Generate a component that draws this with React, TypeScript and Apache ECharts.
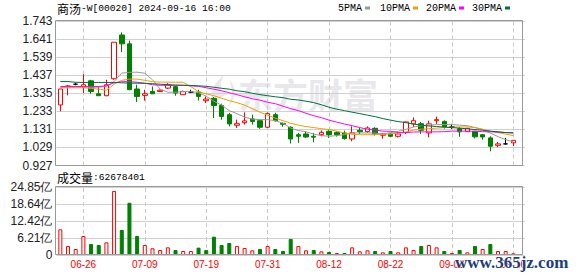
import React, { useEffect, useRef } from 'react';
import * as echarts from 'echarts';

const dates = ['06-21','06-24','06-25','06-26','06-27','06-28','07-02','07-03','07-04','07-05','07-08','07-09','07-10','07-11','07-12','07-15','07-16','07-17','07-18','07-19','07-22','07-23','07-24','07-25','07-26','07-29','07-30','07-31','08-01','08-02','08-05','08-06','08-07','08-08','08-09','08-12','08-13','08-14','08-15','08-16','08-19','08-20','08-21','08-22','08-23','08-26','08-27','08-28','08-29','08-30','09-02','09-03','09-04','09-05','09-09','09-10','09-11','09-12','09-13','09-16'];

// [open, close, low, high]
const candles = [
  [1.269,1.359,1.233,1.360],[1.374,1.376,1.323,1.381],[1.386,1.386,1.380,1.394],[1.370,1.383,1.336,1.443],
  [1.405,1.345,1.332,1.411],[1.332,1.321,1.321,1.373],[1.321,1.383,1.318,1.411],[1.417,1.623,1.411,1.623],
  [1.664,1.614,1.567,1.679],[1.614,1.355,1.355,1.632],[1.359,1.317,1.285,1.383],[1.323,1.332,1.293,1.355],
  [1.345,1.332,1.332,1.373],[1.345,1.352,1.343,1.356],[1.364,1.383,1.359,1.392],[1.372,1.336,1.321,1.377],
  [1.327,1.345,1.327,1.350],[1.342,1.342,1.336,1.355],[1.342,1.317,1.294,1.355],[1.293,1.302,1.280,1.317],
  [1.306,1.266,1.195,1.314],[1.266,1.204,1.186,1.276],[1.214,1.162,1.148,1.224],[1.154,1.163,1.139,1.186],
  [1.169,1.179,1.158,1.227],[1.190,1.176,1.158,1.214],[1.180,1.143,1.134,1.186],[1.143,1.220,1.139,1.227],
  [1.214,1.180,1.175,1.225],[1.165,1.160,1.146,1.170],[1.143,1.077,1.051,1.148],[1.101,1.092,1.055,1.111],
  [1.105,1.088,1.083,1.120],[1.092,1.087,1.058,1.111],[1.101,1.114,1.092,1.126],[1.120,1.101,1.083,1.126],
  [1.114,1.101,1.090,1.120],[1.111,1.079,1.073,1.124],[1.077,1.111,1.064,1.148],[1.126,1.118,1.105,1.139],
  [1.118,1.139,1.111,1.148],[1.137,1.105,1.096,1.143],[1.098,1.105,1.079,1.111],[1.105,1.092,1.087,1.111],
  [1.092,1.105,1.085,1.111],[1.114,1.173,1.105,1.175],[1.162,1.180,1.145,1.199],[1.163,1.126,1.105,1.173],
  [1.111,1.162,1.086,1.180],[1.180,1.186,1.162,1.203],[1.176,1.145,1.135,1.182],[1.145,1.145,1.134,1.162],
  [1.135,1.117,1.089,1.143],[1.118,1.137,1.117,1.139],[1.120,1.089,1.080,1.123],[1.101,1.088,1.073,1.105],
  [1.083,1.036,1.007,1.092],[1.041,1.049,1.030,1.060],[1.049,1.049,1.045,1.083],[1.055,1.069,1.036,1.069],
];

const ma5 = [1.369,1.369,1.370,1.370,1.369,1.369,1.374,1.401,1.449,1.453,1.454,1.448,1.411,1.358,1.341,1.341,1.344,1.346,1.338,1.318,1.290,1.268,1.237,1.220,1.200,1.189,1.186,1.186,1.180,1.166,1.138,1.124,1.118,1.104,1.096,1.092,1.096,1.101,1.110,1.111,1.111,1.110,1.105,1.113,1.120,1.131,1.144,1.152,1.155,1.158,1.158,1.158,1.155,1.152,1.141,1.130,1.110,1.090,1.073,1.060];
const ma10 = [1.366,1.366,1.366,1.366,1.363,1.358,1.352,1.386,1.408,1.415,1.415,1.408,1.400,1.398,1.398,1.397,1.397,1.372,1.344,1.332,1.321,1.307,1.293,1.282,1.268,1.248,1.228,1.211,1.194,1.180,1.166,1.155,1.147,1.141,1.135,1.130,1.121,1.110,1.104,1.101,1.101,1.101,1.104,1.105,1.110,1.116,1.127,1.132,1.135,1.138,1.141,1.144,1.145,1.145,1.141,1.132,1.121,1.113,1.104,1.096];
const ma20 = [1.373,1.373,1.373,1.373,1.373,1.373,1.377,1.394,1.400,1.401,1.397,1.392,1.383,1.380,1.380,1.380,1.380,1.377,1.374,1.366,1.358,1.349,1.338,1.327,1.315,1.304,1.296,1.284,1.276,1.262,1.248,1.237,1.222,1.208,1.197,1.183,1.172,1.161,1.152,1.141,1.132,1.127,1.121,1.120,1.113,1.113,1.116,1.117,1.117,1.117,1.118,1.121,1.121,1.121,1.120,1.118,1.117,1.116,1.113,1.111];
const ma30 = [1.401,1.401,1.397,1.396,1.396,1.396,1.396,1.396,1.394,1.392,1.392,1.391,1.389,1.386,1.383,1.381,1.380,1.379,1.377,1.374,1.369,1.363,1.358,1.349,1.344,1.335,1.327,1.321,1.315,1.310,1.301,1.297,1.290,1.282,1.270,1.256,1.245,1.237,1.228,1.220,1.211,1.203,1.192,1.183,1.175,1.169,1.161,1.155,1.150,1.147,1.144,1.141,1.138,1.134,1.130,1.126,1.121,1.117,1.113,1.111];

// volume in 亿
const volumes = [9.39,3.29,2.19,6.94,4.02,3.65,4.63,23.4,9.14,19.1,6.94,3.65,2.45,1.83,2.80,1.83,1.46,1.46,2.68,1.83,6.70,3.65,4.38,3.29,2.56,1.71,2.19,3.29,2.19,1.46,5.85,3.29,1.71,1.83,1.34,1.10,0.73,0.73,2.80,1.34,1.71,1.46,0.97,1.46,0.97,2.80,1.83,3.29,3.65,2.80,1.46,0.73,1.83,0.97,3.29,2.19,4.02,1.46,1.46,0.63];
const volumeUp = [1,1,1,1,0,0,1,1,0,0, 0,1,1,1,1,0,1,1,0,0, 0,0,0,1,1,1,0,1,0,0, 0,1,1,0,1,0,1,0,1,1, 1,0,1,0,1,1,1,0,1,1, 0,1,0,1,0,1,0,1,1,1];

const priceMin = 0.927;
const priceMax = 1.743;
const priceStep = 0.102;
const volumeMax = 24.85;
const volumeTickLabels = ['0', '6.21亿', '12.42亿', '18.64亿', '24.85亿'];
const labelDates = ['06-26','07-09','07-19','07-31','08-12','08-22','09-03','09-16'];
const maNames = ['5PMA', '10PMA', '20PMA', '30PMA'];

const RED = '#ff0000';
const GREEN = '#008000';
const MA_COLORS = ['#999999', '#f0a000', '#ff00ff', '#006f3c'];

const categories = [...dates, ''];

echarts.graphic.registerShape(
  'emLogo',
  echarts.graphic.extendPath(
    'M18 0 C8 8 2 18 6 35 C10 26 14 22 24 18 C15 18 12 12 18 0 Z M23 5 C31 12 31 24 20 34 C27 24 27 14 23 5 Z',
    {}
  )
);

export default function App() {
  const ref = useRef<HTMLDivElement>(null);
  useEffect(() => {
    const chart = echarts.init(ref.current!, null, { renderer: 'svg' });
    const gridLeft = 56.5;
    const gridWidth = 468.4;
    const markLine = {
      silent: true,
      symbol: ['none', 'none'],
      label: { show: false },
      z: 1,
      lineStyle: { color: '#c8c8c8', type: [4, 3], width: 1 },
      emphasis: { disabled: true },
      data: labelDates.map((d) => ({ xAxis: d })),
    };
    const legendX = [338, 380, 426, 472];
    const legendRectX = [365, 413, 459, 505];
    const graphics: any[] = [
      {
        type: 'emLogo', x: 206, y: 75, z: -10, silent: true,
        style: { fill: '#e8e8ec' },
      },
      {
        type: 'text', x: 238, y: 93, z: -10, silent: true,
        style: { text: '东方财富', fill: '#e8e8ec', font: 'bold 35px "Noto Sans CJK SC"', verticalAlign: 'middle' },
      },
      {
        type: 'text', x: 57, y: 8, silent: true,
        style: {
          text: '{c|商汤}{a|-W[00020] 2024-09-16 16:00}', verticalAlign: 'middle',
          rich: {
            c: { font: '12px "Noto Sans CJK SC"', fill: '#000' },
            a: { font: '9.6px "Liberation Mono"', fill: '#000' },
          },
        },
      },
      {
        type: 'text', x: 57, y: 177, silent: true,
        style: {
          text: '{c|成交量}{a|:62678401}', verticalAlign: 'middle',
          rich: {
            c: { font: '12px "Noto Sans CJK SC"', fill: '#000' },
            a: { font: '9.6px "Liberation Mono"', fill: '#000' },
          },
        },
      },
      {
        type: 'rect', silent: true, z: 10,
        shape: { x: 55.5, y: 20.5, width: 467, height: 145 },
        style: { fill: 'none', stroke: '#999', lineWidth: 1 },
      },
      {
        type: 'rect', silent: true, z: 10,
        shape: { x: 55.5, y: 186.5, width: 467, height: 68 },
        style: { fill: 'none', stroke: '#999', lineWidth: 1 },
      },
      {
        type: 'text', x: 455, y: 262, z: 20, silent: true,
        style: { text: 'www.365jz.com', fill: '#1d3f7a', font: 'bold 17px "Liberation Serif"', verticalAlign: 'middle', stroke: '#fff', lineWidth: 1 },
      },
    ];
    maNames.forEach((n, i) => {
      graphics.push({
        type: 'text', x: legendX[i], y: 8, silent: true,
        style: { text: n, fill: '#000', font: '10px "Liberation Mono"', verticalAlign: 'middle' },
      });
      graphics.push({
        type: 'rect', silent: true,
        shape: { x: legendRectX[i], y: 6.5, width: 5, height: 3 },
        style: { fill: MA_COLORS[i] },
      });
    });

    const option: any = {
      animation: false,
      grid: [
        { left: gridLeft, top: 21, width: gridWidth, height: 144.5, show: false },
        { left: gridLeft, top: 187, width: gridWidth, height: 68, show: false },
      ],
      xAxis: [
        {
          type: 'category', gridIndex: 0, data: categories, boundaryGap: true,
          axisLine: { show: false }, axisTick: { show: false }, axisLabel: { show: false }, splitLine: { show: false },
        },
        {
          type: 'category', gridIndex: 1, data: categories, boundaryGap: true,
          axisLine: { show: false }, axisTick: { show: false }, splitLine: { show: false },
          axisLabel: {
            show: true,
            interval: (i: number) => labelDates.includes(categories[i]),
            color: RED, fontSize: 10, fontFamily: 'Liberation Sans', margin: 4,
          },
        },
      ],
      yAxis: [
        {
          type: 'value', gridIndex: 0, min: priceMin, max: priceMax, interval: priceStep,
          axisLine: { show: false }, axisTick: { show: false },
          axisLabel: { formatter: (v: number) => v.toFixed(3), color: '#222', fontSize: 12, fontFamily: 'Liberation Sans', margin: 4, showMinLabel: true, showMaxLabel: true },
          splitLine: { lineStyle: { color: '#d0d0d0', width: 1 } },
        },
        {
          type: 'value', gridIndex: 1, min: 0, max: volumeMax, interval: volumeMax / 4,
          axisLine: { show: false }, axisTick: { show: false },
          axisLabel: {
            formatter: (v: number) => volumeTickLabels[Math.round(v / (volumeMax / 4))],
            color: '#222', fontSize: 12, fontFamily: 'Liberation Sans', margin: 4, showMinLabel: true, showMaxLabel: true,
          },
          splitLine: { lineStyle: { color: '#d0d0d0', width: 1 } },
        },
      ],
      series: [
        {
          type: 'candlestick', xAxisIndex: 0, yAxisIndex: 0, data: candles, barWidth: 5,
          itemStyle: { color: '#ffffff', color0: GREEN, borderColor: RED, borderColor0: GREEN, borderColorDoji: '#000000', borderWidth: 1 },
          markLine,
          z: 3,
        },
        ...[ma5, ma10, ma20, ma30].map((d, i) => ({
          type: 'line', name: maNames[i], xAxisIndex: 0, yAxisIndex: 0, data: d,
          showSymbol: false, symbol: 'none', smooth: false,
          lineStyle: { color: MA_COLORS[i], width: 1 }, z: 4,
        })),
        {
          type: 'bar', xAxisIndex: 1, yAxisIndex: 1, barWidth: 4,
          data: volumes.map((v, i) => ({
            value: v,
            itemStyle: volumeUp[i]
              ? { color: '#ffffff', borderColor: RED, borderWidth: 1 }
              : { color: GREEN, borderColor: GREEN, borderWidth: 1 },
          })),
          markLine,
          z: 3,
        },
      ],
      graphic: graphics,
    };
    chart.setOption(option);
    return () => chart.dispose();
  }, []);
  return <div ref={ref} style={{ position: 'absolute', left: 0, top: 0, width: 578, height: 276 }} />;
}
